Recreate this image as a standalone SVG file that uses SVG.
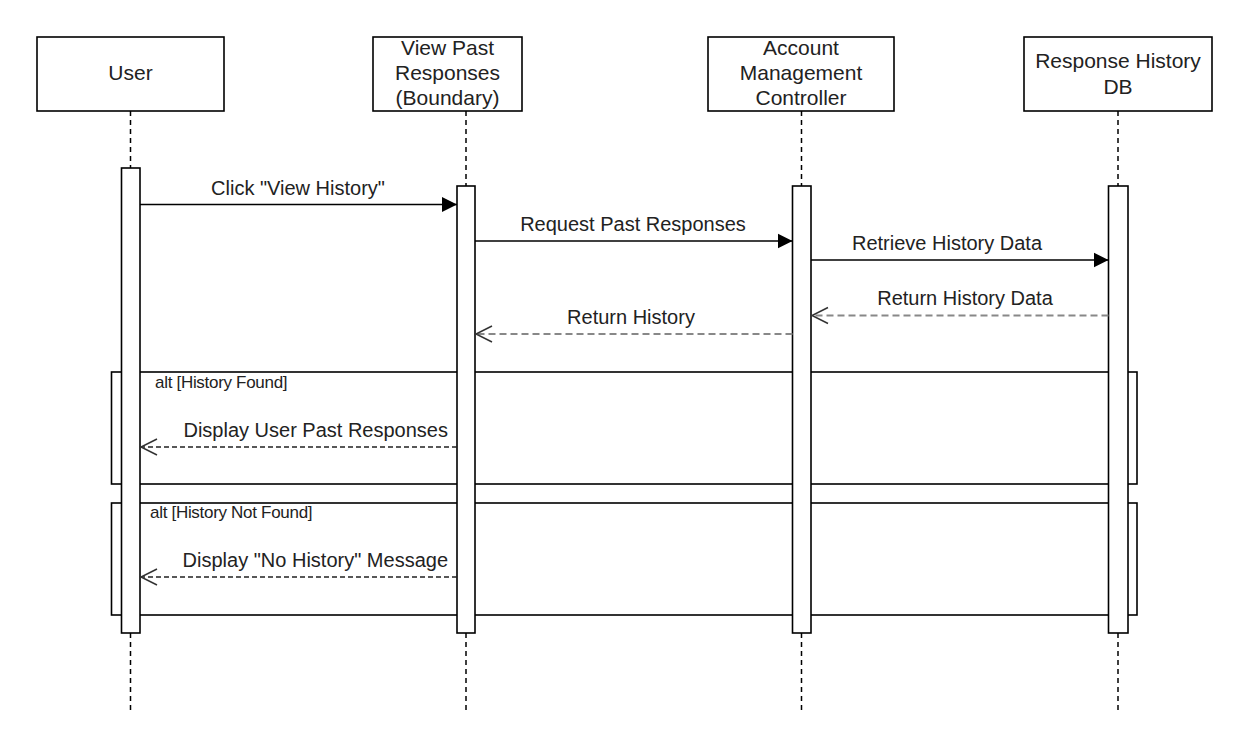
<svg xmlns="http://www.w3.org/2000/svg" width="1239" height="739" viewBox="0 0 1239 739">
<style>
.box{fill:#fff;stroke:#000;stroke-width:1.6}
.hd{font-family:"Liberation Sans",Arial,sans-serif;font-size:21px;fill:#222;text-anchor:middle}
.lbl{font-family:"Liberation Sans",Arial,sans-serif;font-size:20px;fill:#222;text-anchor:middle}
.alt{font-family:"Liberation Sans",Arial,sans-serif;font-size:17px;fill:#222;letter-spacing:-0.3px}
.life{stroke:#000;stroke-width:1.5;stroke-dasharray:5,4;fill:none}
.frame{fill:none;stroke:#000;stroke-width:1.6}
.act{fill:#fff;stroke:#000;stroke-width:1.6}
.sync{stroke:#000;stroke-width:1.5;fill:none}
.ret{stroke:#888;stroke-width:2;stroke-dasharray:7,4;fill:none}
.ret2{stroke:#222;stroke-width:1.3;stroke-dasharray:5,3;fill:none}
</style>
<defs>
<marker id="fill" markerWidth="16" markerHeight="16" refX="15" refY="8" orient="auto" markerUnits="userSpaceOnUse">
<path d="M0,0.5 L15,8 L0,15.5 Z" fill="#000"/>
</marker>
<marker id="open" markerWidth="20" markerHeight="20" refX="18" refY="10" orient="auto" markerUnits="userSpaceOnUse">
<path d="M2,2 L18,10 L2,18" fill="none" stroke="#333" stroke-width="1.5"/>
</marker>
</defs>
<rect width="1239" height="739" fill="#fff"/>
<g id="lifelines">
<line class="life" x1="130.5" y1="111" x2="130.5" y2="710"/>
<line class="life" x1="466" y1="111" x2="466" y2="710"/>
<line class="life" x1="801.5" y1="111" x2="801.5" y2="710"/>
<line class="life" x1="1118" y1="111" x2="1118" y2="710"/>
</g>
<g id="node-user"><rect class="box" x="37" y="37" width="187" height="74"/><text class="hd" x="130.5" y="80">User</text></g>
<g id="node-boundary"><rect class="box" x="373" y="37" width="149" height="74"/><text class="hd" x="447.5" y="55">View Past</text><text class="hd" x="447.5" y="80">Responses</text><text class="hd" x="447.5" y="105">(Boundary)</text></g>
<g id="node-controller"><rect class="box" x="708" y="37" width="186" height="74"/><text class="hd" x="801" y="55">Account</text><text class="hd" x="801" y="80">Management</text><text class="hd" x="801" y="105">Controller</text></g>
<g id="node-db"><rect class="box" x="1024" y="37" width="188" height="74"/><text class="hd" x="1118" y="68">Response History</text><text class="hd" x="1118" y="94">DB</text></g>
<g id="frame-found"><rect class="frame" x="111.5" y="372" width="1025.5" height="112"/><text class="alt" x="155" y="388">alt [History Found]</text></g>
<g id="frame-notfound"><rect class="frame" x="111.5" y="503" width="1025.5" height="112"/><text class="alt" x="150" y="518">alt [History Not Found]</text></g>
<g id="activations">
<rect class="act" x="121.5" y="168" width="18.5" height="465"/>
<rect class="act" x="457" y="186" width="18" height="447"/>
<rect class="act" x="792.5" y="186" width="18.5" height="447"/>
<rect class="act" x="1108.5" y="186" width="19.5" height="447"/>
</g>
<g id="connectors">
<line class="sync" x1="140" y1="204.5" x2="457" y2="204.5" marker-end="url(#fill)"/>
<text class="lbl" x="298" y="195">Click "View History"</text>
<line class="sync" x1="475" y1="241" x2="792.5" y2="241" marker-end="url(#fill)"/>
<text class="lbl" x="633" y="231">Request Past Responses</text>
<line class="sync" x1="811" y1="260" x2="1108.5" y2="260" marker-end="url(#fill)"/>
<text class="lbl" x="947" y="250">Retrieve History Data</text>
<line class="ret" x1="1108.5" y1="315.5" x2="812" y2="315.5" marker-end="url(#open)"/>
<text class="lbl" x="965" y="305">Return History Data</text>
<line class="ret" x1="792.5" y1="334" x2="476" y2="334" marker-end="url(#open)"/>
<text class="lbl" x="631" y="324">Return History</text>
<line class="ret2" x1="457" y1="447" x2="141" y2="447" marker-end="url(#open)"/>
<text class="lbl" x="448" y="437" style="text-anchor:end">Display User Past Responses</text>
<line class="ret2" x1="457" y1="577" x2="141" y2="577" marker-end="url(#open)"/>
<text class="lbl" x="448" y="567" style="text-anchor:end">Display "No History" Message</text>
</g>
</svg>
